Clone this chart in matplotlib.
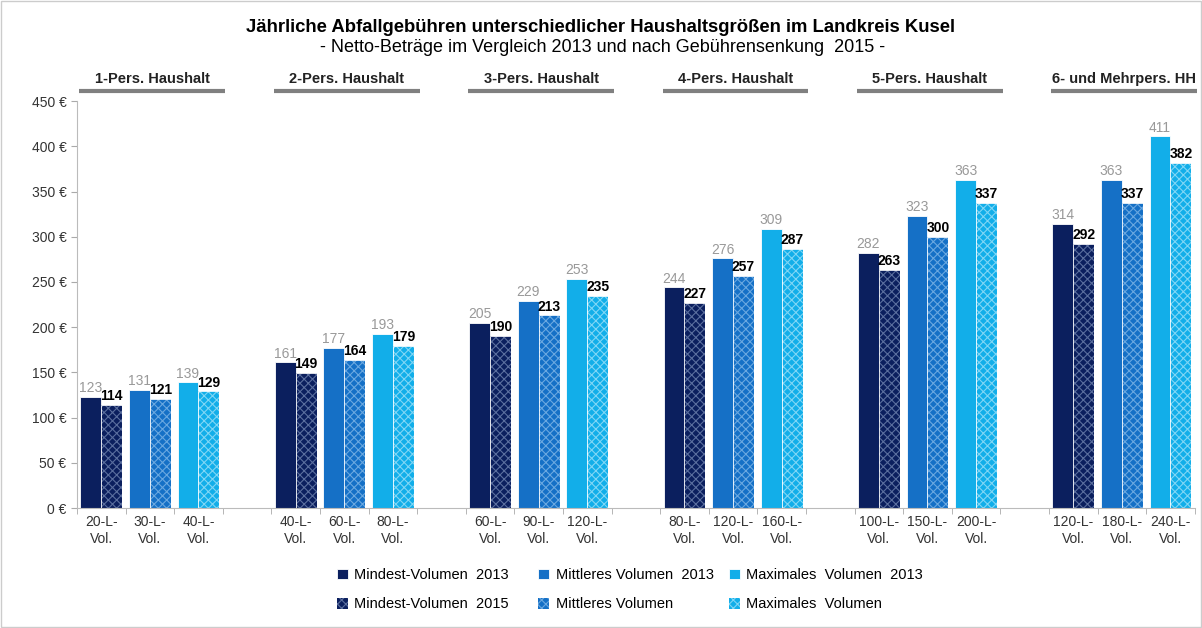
import numpy as np
import matplotlib
matplotlib.use("Agg")
from matplotlib import pyplot as plt

plt.rcParams['font.family'] = ['Liberation Sans', 'DejaVu Sans']
plt.rcParams['hatch.linewidth'] = 0.8

# data
groups = ['1-Pers. Haushalt', '2-Pers. Haushalt', '3-Pers. Haushalt',
          '4-Pers. Haushalt', '5-Pers. Haushalt', '6- und Mehrpers. HH']
volumes = [['20', '30', '40'], ['40', '60', '80'], ['60', '90', '120'],
           ['80', '120', '160'], ['100', '150', '200'], ['120', '180', '240']]
vals_2013 = [[123, 131, 139], [161, 177, 193], [205, 229, 253],
             [244, 276, 309], [282, 323, 363], [314, 363, 411]]
vals_2015 = [[114, 121, 129], [149, 164, 179], [190, 213, 235],
             [227, 257, 287], [263, 300, 337], [292, 337, 382]]

colors = ['#0b1f5e', '#1570c6', '#12aee9']
hatch_colors = ['#5a6e9e', '#6aa8e0', '#7fd6f5']
labels_2013 = ['Mindest-Volumen  2013', 'Mittleres Volumen  2013', 'Maximales  Volumen  2013']
labels_2015 = ['Mindest-Volumen  2015', 'Mittleres Volumen', 'Maximales  Volumen']

W, H = 1202, 628
fig = plt.figure(figsize=(W / 100, H / 100), dpi=100)
ax = fig.add_axes([0.064, 0.191, 0.93, 0.648])

w = 0.43
h13, h15 = [], []
centers = []
ticklabels = []
for g in range(len(groups)):
    for k in range(3):
        x = g * 4 + k
        centers.append(x)
        ticklabels.append(volumes[g][k] + '-L-\nVol.')
        b1 = ax.bar(x - w / 2, vals_2013[g][k], w, color=colors[k],
                    edgecolor='white', linewidth=0.6)
        b2 = ax.bar(x + w / 2, vals_2015[g][k], w, color=colors[k],
                    edgecolor=hatch_colors[k], hatch='xxxx', linewidth=0)
        ax.bar(x + w / 2, vals_2015[g][k], w, color='none',
               edgecolor='white', linewidth=0.6)
        if g == 0:
            h13.append(b1)
            h15.append(b2)
        ax.text(x - w / 2, vals_2013[g][k] + 2, str(vals_2013[g][k]),
                ha='center', va='bottom', fontsize=10, color='#999999')
        ax.text(x + w / 2, vals_2015[g][k] + 2, str(vals_2015[g][k]),
                ha='center', va='bottom', fontsize=10, color='black',
                fontweight='bold')
    # group header with grey line
    ax.plot([g * 4 - 0.45, g * 4 + 2.55], [461, 461], color='#808080',
            linewidth=3, clip_on=False, solid_capstyle='butt')
    ax.text(g * 4 + 1.05, 467, groups[g], ha='center', va='bottom',
            fontsize=10.5, fontweight='bold', color='#222222', clip_on=False)

ax.set_xlim(-0.5, 22.5)
ax.set_ylim(0, 450)
ax.set_yticks(np.arange(0, 451, 50))
ax.set_yticklabels([f'{v} €' for v in range(0, 451, 50)])
ax.set_xticks(centers)
ax.set_xticklabels(ticklabels, fontsize=10, color='#333333', linespacing=1.3)
ax.set_xticks(np.arange(-0.5, 23, 1), minor=True)
ax.tick_params(axis='x', which='major', length=0, pad=5)
ax.tick_params(axis='x', which='minor', length=4, color='#aaaaaa')
ax.tick_params(axis='y', length=4, color='#aaaaaa', labelsize=10,
               labelcolor='#333333')
for s in ['top', 'right']:
    ax.spines[s].set_visible(False)
for s in ['left', 'bottom']:
    ax.spines[s].set_color('#bbbbbb')

fig.text(600 / W, 1 - 28 / H, 'Jährliche Abfallgebühren unterschiedlicher Haushaltsgrößen im Landkreis Kusel',
         ha='center', va='center', fontsize=13.3, fontweight='bold')
fig.text(603 / W, 1 - 47 / H, '- Netto-Beträge im Vergleich 2013 und nach Gebührensenkung  2015 -',
         ha='center', va='center', fontsize=13)

# legend: one small legend per column
for k, xpix in enumerate([337, 538, 729]):
    leg = fig.legend([h13[k], h15[k]], [labels_2013[k], labels_2015[k]],
                     loc='upper left', bbox_to_anchor=(xpix / W, 1 - 568 / H),
                     frameon=False, fontsize=10.5, handlelength=0.75, handleheight=0.75,
                     labelspacing=1.05, handletextpad=0.45, borderpad=0,
                     borderaxespad=0)

fig.patches.append(plt.Rectangle((0.001, 0.001), 0.998, 0.998, transform=fig.transFigure,
                                 fill=False, edgecolor='#cccccc', linewidth=1))

fig.savefig('out.png', dpi=100)
